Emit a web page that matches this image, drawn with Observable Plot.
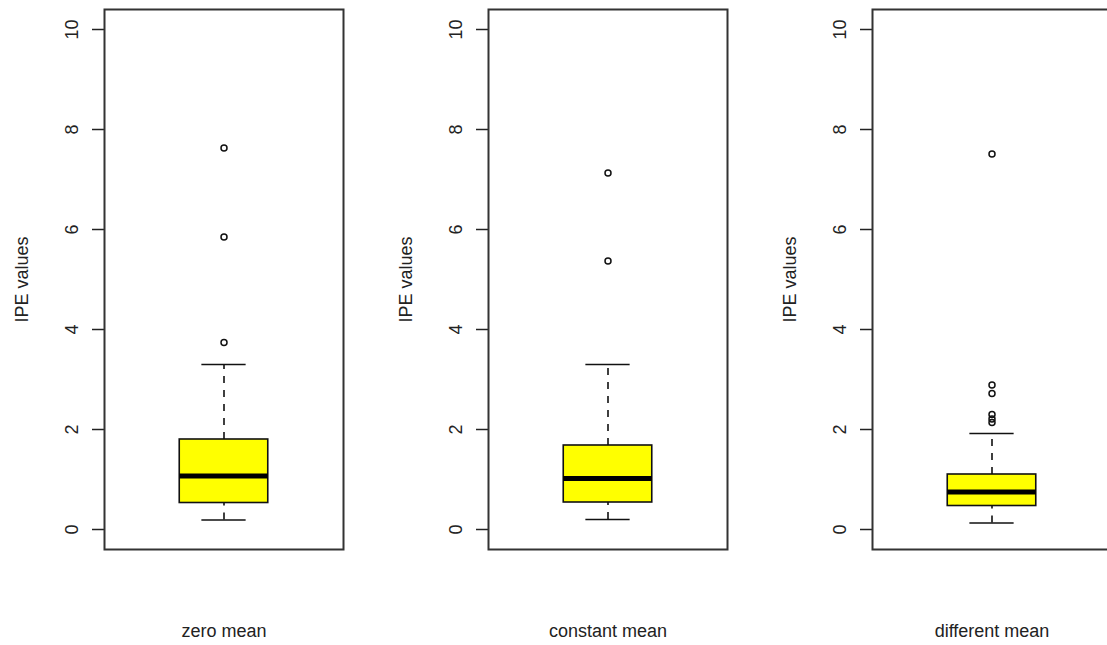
<!DOCTYPE html>
<html>
<head>
<meta charset="utf-8">
<script src="https://cdn.jsdelivr.net/npm/d3@7"></script>
<script src="https://cdn.jsdelivr.net/npm/@observablehq/plot@0.6"></script>
<style>
  html, body { margin: 0; padding: 0; background: #fff; }
  #chart { position: relative; width: 1107px; height: 645px; overflow: hidden; background: #fff; }
  .panel { position: absolute; top: 0; }
</style>
</head>
<body>
<div id="chart"></div>
<script>
// ---- data ----
const groups = ["zero mean", "constant mean", "different mean"];
const whiskerLow = [0.19, 0.20, 0.13];
const q1 = [0.53, 0.54, 0.47];
const median = [1.07, 1.02, 0.75];
const q3 = [1.80, 1.68, 1.10];
const whiskerHigh = [3.30, 3.30, 1.92];
const outliers = [
  [3.74, 5.85, 7.63],
  [5.37, 7.13],
  [2.14, 2.21, 2.30, 2.72, 2.89, 7.51]
];
const yTicks = [0, 2, 4, 6, 8, 10];
const yLabel = "IPE values";

// ---- layout ----
const panelLefts = [0, 384, 768];
const W = 384, H = 645;
const font = "'Liberation Sans', Arial, Helvetica, sans-serif";
const fs = 18;
const ink = "#222";

const chart = document.getElementById("chart");

groups.forEach((g, i) => {
  const box = [{pos: 1, lo: whiskerLow[i], q1: q1[i], med: median[i], q3: q3[i], hi: whiskerHigh[i]}];
  const outs = outliers[i].map(v => ({pos: 1, v}));
  const half = 0.2, staple = 0.1;

  const p = Plot.plot({
    width: W,
    height: H,
    marginLeft: 104,
    marginRight: 41,
    marginTop: 9,
    marginBottom: 96,
    style: {fontFamily: font, fontSize: fs + "px", color: ink, background: "white", overflow: "visible"},
    x: {domain: [0.46, 1.54], axis: null},
    y: {domain: [-0.4, 10.4], axis: null},
    marks: [
      // whiskers (dashed)
      Plot.ruleX(box, {x: "pos", y1: "q3", y2: "hi", stroke: "#111", strokeWidth: 1.6, strokeDasharray: "7,7"}),
      Plot.ruleX(box, {x: "pos", y1: "lo", y2: "q1", stroke: "#111", strokeWidth: 1.6, strokeDasharray: "7,7"}),
      // staples
      Plot.ruleY(box, {y: "hi", x1: d => d.pos - staple, x2: d => d.pos + staple, stroke: "#111", strokeWidth: 1.6}),
      Plot.ruleY(box, {y: "lo", x1: d => d.pos - staple, x2: d => d.pos + staple, stroke: "#111", strokeWidth: 1.6}),
      // box
      Plot.rect(box, {x1: d => d.pos - half, x2: d => d.pos + half, y1: "q1", y2: "q3", fill: "#ffff00", stroke: "#111", strokeWidth: 1.6}),
      // median
      Plot.ruleY(box, {y: "med", x1: d => d.pos - half, x2: d => d.pos + half, stroke: "#000", strokeWidth: 5}),
      // outliers
      Plot.dot(outs, {x: "pos", y: "v", r: 3, stroke: "#111", strokeWidth: 1.5, fill: "none"}),
      // y axis ticks
      Plot.axisY({ticks: yTicks, tickSize: 12, tickFormat: () => "", label: null, stroke: "#222", strokeWidth: 1.5}),
      // y tick labels (rotated like R)
      Plot.text(yTicks, {y: d => d, text: d => String(d), frameAnchor: "left", dx: -32, rotate: -90, textAnchor: "middle", lineAnchor: "middle", fontSize: fs, fill: ink}),
      // y axis title
      Plot.text([yLabel], {text: d => d, frameAnchor: "left", dx: -82, rotate: -90, textAnchor: "middle", lineAnchor: "middle", fontSize: fs, fill: ink}),
      // x label
      Plot.text([g], {text: d => d, frameAnchor: "bottom", dy: 82, textAnchor: "middle", lineAnchor: "middle", fontSize: fs, fill: ink}),
      // frame
      Plot.frame({stroke: "#333", strokeWidth: 2})
    ]
  });
  p.classList.add("panel");
  p.style.left = panelLefts[i] + "px";
  chart.appendChild(p);
});
</script>
</body>
</html>
